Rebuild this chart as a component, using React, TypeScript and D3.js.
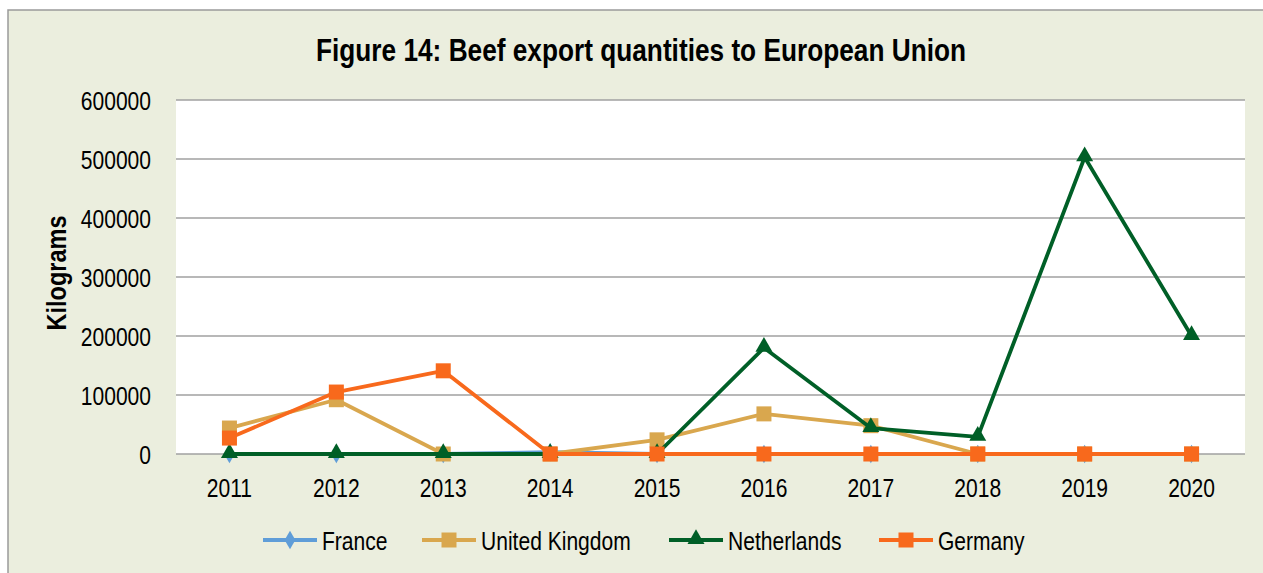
import React from "react";
import * as d3 from "d3";

const years = ["2011","2012","2013","2014","2015","2016","2017","2018","2019","2020"];
const france = [0, 0, 0, 3000, 0, 0, 0, 0, 0, 0];
const unitedKingdom = [44000, 92000, 0, 0, 24000, 68000, 48000, 0, 0, 0];
const netherlands = [0, 0, 0, 0, 0, 180000, 44000, 29000, 503000, 200000];
const germany = [27000, 105000, 141000, 0, 0, 0, 0, 0, 0, 0];
const yTicks = [0, 100000, 200000, 300000, 400000, 500000, 600000];

const series = [
  { name: "France", values: france, color: "#5F9DD8", marker: "diamond" },
  { name: "United Kingdom", values: unitedKingdom, color: "#D9A74E", marker: "square" },
  { name: "Netherlands", values: netherlands, color: "#005F27", marker: "triangle" },
  { name: "Germany", values: germany, color: "#F8691C", marker: "square" },
];

const W = 1263, H = 573;
const plot = { left: 176, right: 1245, top: 100, bottom: 454 };
const font = "'Liberation Sans', Arial, sans-serif";
const NARROW = 0.81;

function NText({ x, y, anchor = "start", size = 26, bold = false, children }:
  { x: number; y: number; anchor?: string; size?: number; bold?: boolean; children: React.ReactNode }) {
  return (
    <text transform={`translate(${x},${y}) scale(${NARROW},1)`} textAnchor={anchor as any}
      fontFamily={font} fontSize={size} fontWeight={bold ? "bold" : "normal"} fill="#000">
      {children}
    </text>
  );
}

function Marker({ type, x, y, color }: { type: string; x: number; y: number; color: string }) {
  if (type === "square") return <rect x={x - 7.5} y={y - 7.5} width={15} height={15} fill={color} />;
  if (type === "triangle") {
    const sym = d3.symbol().type(d3.symbolTriangle).size(125)();
    return <path d={sym || ""} transform={`translate(${x},${y - 1})`} fill={color} />;
  }
  const sym = d3.symbol().type(d3.symbolDiamond).size(100)();
  return <path d={sym || ""} transform={`translate(${x},${y})`} fill={color} />;
}

export default function App() {
  const x = d3.scaleBand().domain(years).range([plot.left, plot.right]);
  const y = d3.scaleLinear().domain([0, 600000]).range([plot.bottom, plot.top]);
  const cx = (yr: string) => (x(yr) as number) + x.bandwidth() / 2;
  const line = d3.line<number>().x((_, i) => cx(years[i])).y((v) => y(v));

  const legendX = [263, 422, 669, 879];
  const legendY = 540;

  return (
    <svg width={W} height={H} style={{ position: "absolute", left: 0, top: 0 }}>
      <rect x={8} y={10} width={W} height={H} fill="#EBEEDE" stroke="#9A9A9A" strokeWidth={1.5} />
      <rect x={plot.left} y={plot.top} width={plot.right - plot.left} height={plot.bottom - plot.top} fill="#FFFFFF" />
      {yTicks.map((t) => (
        <line key={t} x1={plot.left} x2={plot.right} y1={y(t)} y2={y(t)} stroke="#A0A0A0" strokeWidth={1.5} />
      ))}
      {yTicks.map((t) => (
        <NText key={"l" + t} x={151} y={y(t) + 10} anchor="end">{String(t)}</NText>
      ))}
      {years.map((yr) => (
        <NText key={yr} x={cx(yr)} y={497} anchor="middle">{yr}</NText>
      ))}
      <text x={641} y={61} textAnchor="middle" fontFamily={font} fontWeight="bold" fontSize={31}
        textLength={650} lengthAdjust="spacingAndGlyphs" fill="#000">
        Figure 14: Beef export quantities to European Union
      </text>
      <text transform={`translate(66,273) rotate(-90)`} textAnchor="middle" fontFamily={font} fontWeight="bold"
        fontSize={27} textLength={115} lengthAdjust="spacingAndGlyphs" fill="#000">
        Kilograms
      </text>
      {series.map((s) => (
        <g key={s.name}>
          <path d={line(s.values) || ""} fill="none" stroke={s.color} strokeWidth={3.8} strokeLinejoin="round" />
          {s.values.map((v, i) => (
            <Marker key={i} type={s.marker} x={cx(years[i])} y={y(v)} color={s.color} />
          ))}
        </g>
      ))}
      {series.map((s, i) => (
        <g key={"lg" + s.name}>
          <line x1={legendX[i]} x2={legendX[i] + 54} y1={legendY} y2={legendY} stroke={s.color} strokeWidth={3.8} />
          <Marker type={s.marker} x={legendX[i] + 27} y={legendY} color={s.color} />
          <NText x={legendX[i] + 59} y={550}>{s.name}</NText>
        </g>
      ))}
    </svg>
  );
}
